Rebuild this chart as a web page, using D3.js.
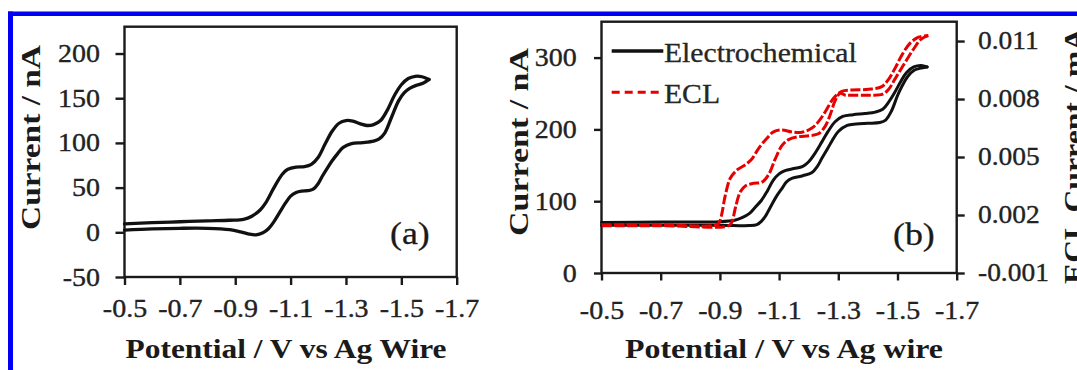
<!DOCTYPE html>
<html>
<head>
<meta charset="utf-8">
<script src="https://cdn.jsdelivr.net/npm/d3@7"></script>
<style>
  html, body { margin: 0; padding: 0; background: #fff; overflow: hidden; }
  svg { display: block; }
</style>
</head>
<body>
<svg id="fig" width="1077" height="370"></svg>
<script>
// ---- tick values ----
const potentialTicks = [-0.5, -0.7, -0.9, -1.1, -1.3, -1.5, -1.7];
const currentTicksA = [-50, 0, 50, 100, 150, 200];
const currentTicksB = [0, 100, 200, 300];
const eclTicks = [-0.001, 0.002, 0.005, 0.008, 0.011];

// ---- panel (a): cyclic voltammogram, [potential V, current nA] ----
const cvA_forward = [
  [-0.50, 9.5], [-0.60, 10.8], [-0.70, 11.8], [-0.80, 12.8], [-0.88, 13.5],
  [-0.93, 14.5], [-0.96, 18], [-0.99, 25], [-1.01, 33], [-1.04, 50],
  [-1.07, 65], [-1.09, 70.5], [-1.12, 73], [-1.15, 73.5], [-1.175, 76],
  [-1.20, 84], [-1.225, 99], [-1.25, 113], [-1.275, 122], [-1.30, 125],
  [-1.325, 124.3], [-1.35, 121.5], [-1.375, 119.5], [-1.40, 120.5], [-1.425, 125],
  [-1.45, 137], [-1.475, 153], [-1.50, 165], [-1.525, 172], [-1.55, 174.5],
  [-1.575, 174], [-1.60, 171]
];
const cvA_reverse = [
  [-1.60, 171], [-1.58, 167], [-1.555, 164.5], [-1.53, 161], [-1.51, 156],
  [-1.49, 147], [-1.465, 129], [-1.44, 111], [-1.42, 104.5], [-1.40, 102],
  [-1.36, 100.3], [-1.32, 99.3], [-1.29, 95], [-1.27, 88], [-1.25, 80],
  [-1.235, 73], [-1.215, 63], [-1.20, 54.7], [-1.18, 48], [-1.16, 46.5],
  [-1.14, 46], [-1.12, 44.5], [-1.10, 40.5], [-1.08, 32], [-1.06, 22],
  [-1.04, 12], [-1.02, 4], [-1.00, -0.5], [-0.975, -2.8], [-0.95, -2],
  [-0.92, 0.5], [-0.88, 3], [-0.80, 4.5], [-0.70, 4.5], [-0.60, 3.8], [-0.50, 2.5]
];

// ---- panel (b): electrochemical current (nA) ----
const cvB_forward = [
  [-0.50, 70.5], [-0.70, 71], [-0.90, 71.5], [-0.95, 73.5], [-0.975, 77],
  [-1.00, 83], [-1.02, 92], [-1.04, 101], [-1.06, 114], [-1.08, 129],
  [-1.10, 138], [-1.12, 142.5], [-1.15, 145.5], [-1.18, 148.5], [-1.20, 155],
  [-1.22, 166], [-1.245, 183], [-1.265, 197], [-1.29, 211], [-1.315, 218],
  [-1.35, 220.5], [-1.39, 222], [-1.425, 224], [-1.45, 228], [-1.47, 238],
  [-1.49, 251], [-1.51, 266], [-1.53, 279], [-1.555, 287], [-1.58, 289], [-1.60, 287]
];
const cvB_reverse = [
  [-1.60, 287], [-1.575, 285], [-1.555, 282], [-1.535, 274], [-1.515, 260],
  [-1.50, 247], [-1.48, 226], [-1.46, 213], [-1.44, 209.5], [-1.40, 208.5],
  [-1.36, 207.5], [-1.33, 205.5], [-1.30, 197], [-1.28, 185], [-1.265, 174],
  [-1.245, 160], [-1.23, 149], [-1.21, 139.5], [-1.18, 135.5], [-1.145, 132],
  [-1.125, 127], [-1.11, 118], [-1.09, 106], [-1.075, 95], [-1.055, 80],
  [-1.04, 72], [-1.025, 67.5], [-1.00, 66], [-0.90, 66.5], [-0.70, 66.5], [-0.50, 66.5]
];

// ---- panel (b): ECL current (mA, right axis) ----
const eclB_forward = [
  [-0.50, 0.0015], [-0.70, 0.0015], [-0.89, 0.0015], [-0.90, 0.0017], [-0.907, 0.0021],
  [-0.918, 0.0030], [-0.935, 0.0039], [-0.958, 0.00433], [-0.986, 0.0046], [-1.008, 0.0049],
  [-1.031, 0.00545], [-1.059, 0.00597], [-1.081, 0.0063], [-1.11, 0.0064], [-1.143, 0.0063],
  [-1.177, 0.00628], [-1.211, 0.0065], [-1.233, 0.00683], [-1.256, 0.00734], [-1.284, 0.00804],
  [-1.312, 0.0084], [-1.346, 0.00847], [-1.402, 0.0085], [-1.447, 0.00864], [-1.469, 0.0090],
  [-1.492, 0.0096], [-1.515, 0.01028], [-1.542, 0.01088], [-1.571, 0.0112], [-1.604, 0.01128]
];
const eclB_reverse = [
  [-1.604, 0.01128], [-1.58, 0.0111], [-1.555, 0.0106], [-1.53, 0.0100], [-1.51, 0.0095],
  [-1.49, 0.0090], [-1.47, 0.0085], [-1.45, 0.00825], [-1.40, 0.0082], [-1.35, 0.0082],
  [-1.323, 0.0082], [-1.306, 0.0083], [-1.289, 0.0079], [-1.273, 0.0072], [-1.256, 0.0066],
  [-1.233, 0.0062], [-1.20, 0.0061], [-1.166, 0.00605], [-1.132, 0.0059], [-1.11, 0.0056],
  [-1.087, 0.0049], [-1.065, 0.0041], [-1.042, 0.0037], [-1.014, 0.00364], [-0.986, 0.0035],
  [-0.969, 0.0032], [-0.952, 0.00235], [-0.941, 0.00165], [-0.93, 0.00145], [-0.70, 0.00145],
  [-0.50, 0.00145]
];

// ---- layout ----
const FONT = '"Liberation Serif", "Times New Roman", Times, serif';
const SX = 1.12;               // horizontal glyph stretch used for all labels
const INK = "#1a1a1a";
const RED = "#e60000";
const panelA = { left: 124.5, top: 26.7, right: 456.7, bottom: 277 };
const panelB = { left: 601.5, top: 21.7, right: 956.7, bottom: 273 };

const svg = d3.select("#fig");
svg.append("rect").attr("width", 1077).attr("height", 370).attr("fill", "#fff");

// blue page frame
svg.append("rect").attr("x", 8).attr("y", 11.5).attr("width", 1069).attr("height", 4.5).attr("fill", "#0000f2");
svg.append("rect").attr("x", 8).attr("y", 11.5).attr("width", 5).attr("height", 360).attr("fill", "#0000f2");

// scales
const xA = d3.scaleLinear().domain([-0.5, -1.7]).range([panelA.left, panelA.right]);
const yA = d3.scaleLinear().domain([-50, 230]).range([panelA.bottom, panelA.top]);
const xB = d3.scaleLinear().domain([-0.5, -1.7]).range([panelB.left, panelB.right]);
const yB = d3.scaleLinear().domain([0, 350]).range([panelB.bottom, panelB.top]);
const yB2 = d3.scaleLinear().domain([-0.001, 0.012]).range([panelB.bottom, panelB.top]);

// text helper: label with slightly widened glyphs
function label(parent, str, x, y, size, opts = {}) {
  return parent.append("text")
    .attr("transform", `translate(${x},${y}) scale(${SX},1)`)
    .attr("font-family", FONT)
    .attr("font-size", size)
    .attr("font-weight", opts.bold ? "bold" : "normal")
    .attr("text-anchor", opts.anchor || "start")
    .attr("fill", opts.fill || INK)
    .attr("stroke", opts.fill || INK)
    .attr("stroke-width", 0.3)
    .text(str);
}

function styleAxis(g, size) {
  g.attr("font-size", null).attr("font-family", null);
  g.select(".domain").remove();
  g.selectAll(".tick line").attr("stroke", INK).attr("stroke-width", 2.4);
  g.selectAll(".tick text")
    .attr("font-family", FONT)
    .attr("font-size", size)
    .attr("fill", "#222")
    .attr("stroke", "#222")
    .attr("stroke-width", 0.35)
    .each(function () {
      const t = d3.select(this);
      const x = +t.attr("x") || 0;
      t.attr("x", x / SX).attr("transform", `scale(${SX},1)`);
    });
}

function frame(p) {
  svg.append("rect")
    .attr("x", p.left).attr("y", p.top)
    .attr("width", p.right - p.left).attr("height", p.bottom - p.top)
    .attr("fill", "none").attr("stroke", INK).attr("stroke-width", 2.4);
}

function title(str, transform, length) {
  svg.append("text")
    .attr("transform", transform)
    .attr("font-family", FONT).attr("font-size", 28).attr("font-weight", "bold")
    .attr("text-anchor", "middle").attr("fill", INK)
    .attr("textLength", length).attr("lengthAdjust", "spacingAndGlyphs")
    .text(str);
}

const fmtV = d => d.toFixed(1);

// ---------------- panel (a) ----------------
const gAx = svg.append("g").attr("transform", `translate(0,${panelA.bottom})`)
  .call(d3.axisBottom(xA).tickValues(potentialTicks).tickFormat(fmtV).tickSize(8).tickPadding(14.3));
styleAxis(gAx, 25);
const gAy = svg.append("g").attr("transform", `translate(${panelA.left},0)`)
  .call(d3.axisLeft(yA).tickValues(currentTicksA).tickFormat(d => String(d)).tickSize(9).tickPadding(15.5));
styleAxis(gAy, 25);
frame(panelA);

const lineA = d3.line().x(d => xA(d[0])).y(d => yA(d[1])).curve(d3.curveCatmullRom.alpha(0.5));
[cvA_forward, cvA_reverse].forEach(s => {
  svg.append("path").attr("d", lineA(s)).attr("fill", "none")
    .attr("stroke", "#111").attr("stroke-width", 3.3)
    .attr("stroke-linejoin", "round").attr("stroke-linecap", "round");
});

label(svg, "(a)", 390, 244, 32);

title("Potential / V vs Ag Wire", "translate(286,358.3)", 321);
title("Current / nA", "translate(40,137.5) rotate(-90)", 185);

// ---------------- panel (b) ----------------
const gBx = svg.append("g").attr("transform", `translate(0,${panelB.bottom})`)
  .call(d3.axisBottom(xB).tickValues(potentialTicks).tickFormat(fmtV).tickSize(7.5).tickPadding(20.5));
styleAxis(gBx, 25);
const gBy = svg.append("g").attr("transform", `translate(${panelB.left},0)`)
  .call(d3.axisLeft(yB).tickValues(currentTicksB).tickFormat(d => String(d)).tickSize(7.5).tickPadding(17.3));
styleAxis(gBy, 25);
const gBy2 = svg.append("g").attr("transform", `translate(${panelB.right},0)`)
  .call(d3.axisRight(yB2).tickValues(eclTicks).tickFormat(d => d.toFixed(3)).tickSize(8).tickPadding(13.3));
styleAxis(gBy2, 24.5);
frame(panelB);

const lineB = d3.line().x(d => xB(d[0])).y(d => yB(d[1])).curve(d3.curveCatmullRom.alpha(0.5));
const lineECL = d3.line().x(d => xB(d[0])).y(d => yB2(d[1])).curve(d3.curveCatmullRom.alpha(0.5));

[cvB_forward, cvB_reverse].forEach(s => {
  svg.append("path").attr("d", lineB(s)).attr("fill", "none")
    .attr("stroke", "#111").attr("stroke-width", 3)
    .attr("stroke-linejoin", "round").attr("stroke-linecap", "round");
});
[eclB_forward, eclB_reverse].forEach(s => {
  svg.append("path").attr("d", lineECL(s)).attr("fill", "none")
    .attr("stroke", RED).attr("stroke-width", 3)
    .attr("stroke-dasharray", "10,2.5")
    .attr("stroke-linejoin", "round");
});

// legend
svg.append("line").attr("x1", 611.7).attr("x2", 663.3).attr("y1", 51).attr("y2", 51)
  .attr("stroke", "#111").attr("stroke-width", 3.3);
label(svg, "Electrochemical", 664, 61.7, 26.5, { fill: "#262626" });
svg.append("line").attr("x1", 611.7).attr("x2", 663.3).attr("y1", 92.3).attr("y2", 92.3)
  .attr("stroke", RED).attr("stroke-width", 3).attr("stroke-dasharray", "8,5");
label(svg, "ECL", 664, 103.3, 26.5, { fill: "#262626" });

label(svg, "(b)", 893, 245, 32);

title("Potential / V vs Ag wire", "translate(784,358.3)", 318);
title("Current / nA", "translate(528,142) rotate(-90)", 188);
title("ECL Current / mA", "translate(1083,156) rotate(-90)", 256);
</script>
</body>
</html>
